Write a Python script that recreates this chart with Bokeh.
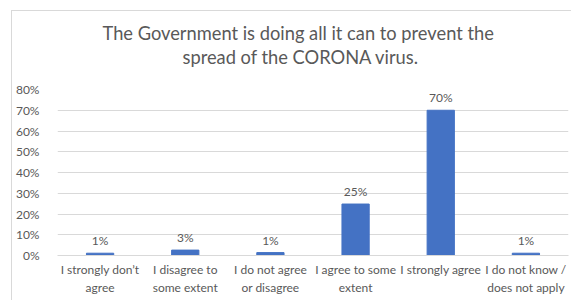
from bokeh.plotting import figure
from bokeh.models import ColumnDataSource, FactorRange, Range1d, Title
from bokeh.core.properties import value
from bokeh.embed import file_html
from bokeh.resources import INLINE

categories = ["I strongly don\u2019t\nagree", "I disagree to\nsome extent", "I do not agree\nor disagree",
              "I agree to some\nextent", "I strongly agree", "I do not know /\ndoes not apply"]
values = [1.1, 2.6, 1.4, 24.8, 70.0, 1.1]
labels = [f"{round(v)}%" for v in values]
y_ticks = [0, 10, 20, 30, 40, 50, 60, 70, 80]
title_lines = ["The Government is doing all it can to prevent the", "spread of the CORONA virus."]

FONT = "Lato"
GREY = "#595959"

src = ColumnDataSource(dict(cat=categories, val=values, lab=labels))

p = figure(x_range=FactorRange(*categories), y_range=Range1d(0, 80),
           width=560, height=290, output_backend="svg", toolbar_location=None,
           min_border_left=43, min_border_right=4, min_border_top=78, min_border_bottom=46,
           title=None)
p.styles = {"margin-left": "11px", "margin-top": "10px",
            "border-left": "1px solid #d9d9d9", "border-top": "1px solid #d9d9d9"}

t2 = Title(text=title_lines[1], align="left", text_font=FONT, text_font_size="18.3px",
           text_font_style="normal", text_color=GREY, standoff=44, offset=125)
t1 = Title(text=title_lines[0], align="left", text_font=FONT, text_font_size="18.3px",
           text_font_style="normal", text_color=GREY, standoff=-44, offset=45)
p.add_layout(t2, "above")
p.add_layout(t1, "above")

p.vbar(x="cat", top="val", width=0.32, source=src, color="#4472C4")
p.text(x="cat", y="val", text="lab", source=src, y_offset=-5, text_align="center",
       text_baseline="bottom", text_font=value(FONT), text_font_size="12px", text_color=GREY)

p.outline_line_color = None
p.background_fill_color = "white"
p.border_fill_color = "white"
p.xgrid.grid_line_color = None
p.ygrid.grid_line_color = "#d9d9d9"
p.yaxis.ticker = y_ticks
p.yaxis.major_label_overrides = {v: f"{v}%" for v in y_ticks}
for ax in (p.xaxis, p.yaxis):
    ax.major_tick_line_color = None
    ax.minor_tick_line_color = None
    ax.major_label_text_font = FONT
    ax.major_label_text_font_size = "12px"
    ax.major_label_text_color = GREY
p.yaxis.axis_line_color = None
p.yaxis.major_label_standoff = 12
p.xaxis.axis_line_color = "#d9d9d9"
p.xaxis.major_label_standoff = 0
p.xaxis.axis_label_standoff = 0
p.x_range.range_padding = 0
p.x_range.group_padding = 0

open("out.html", "w").write(file_html(p, INLINE))
